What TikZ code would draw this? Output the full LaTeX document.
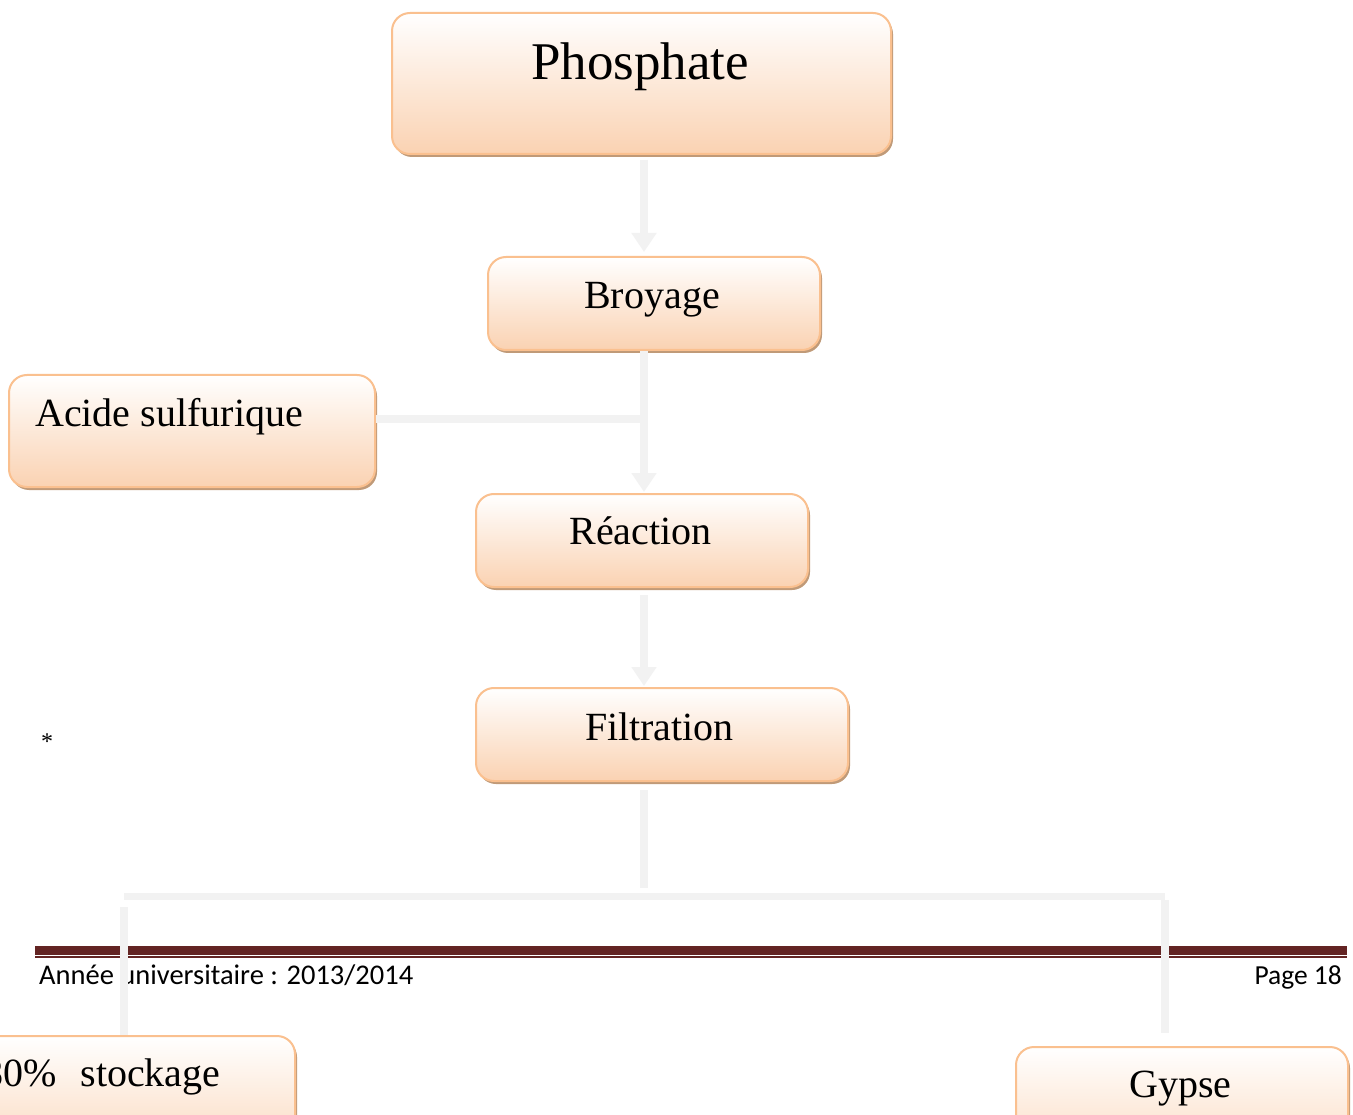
\documentclass[tikz,border=0pt]{standalone}
\usepackage{fontspec}
\setmainfont{Liberation Serif}
\newfontfamily\footfont{Carlito}
\usetikzlibrary{arrows.meta,shadows}
\definecolor{boxborder}{HTML}{FAC08F}
\definecolor{boxbottom}{HTML}{FAD2B2}
\definecolor{boxshadow}{HTML}{C09A78}
\definecolor{conn}{HTML}{F2F2F2}
\definecolor{footred}{HTML}{632423}
\tikzset{
  box/.style={draw=boxborder, line width=2pt, rounded corners=18pt,
    top color=white, bottom color=boxbottom,
    drop shadow={shadow xshift=2pt, shadow yshift=-3pt, fill=boxshadow, opacity=1},
    anchor=north west, inner sep=0pt},
  lbl/.style={anchor=base, inner sep=0pt, font=\fontsize{40}{40}\selectfont},
  foot/.style={anchor=base west, inner sep=0pt, font=\footfont\fontsize{28.5}{28.5}\selectfont},
  link/.style={draw=conn, line width=8pt},
  arr/.style={link, -{Triangle[width=24pt,length=19pt]}},
}
\begin{document}
\begin{tikzpicture}[x=1pt,y=-1pt]
\useasboundingbox[fill=white] (0,0) rectangle (1353,1115);
% footer
\coordinate (fl) at (35,950.5);
\coordinate (fr) at (1347,950.5);
\coordinate (gl) at (35,957);
\coordinate (gr) at (1347,957);
\draw[footred, line width=9pt] (fl) -- (fr);
\draw[footred, line width=1.4pt] (gl) -- (gr);
\node[foot] (year) at (39,984) {Année universitaire : 2013/2014};
\node[foot, anchor=base east, font=\footfont\fontsize{27.5}{27.5}\selectfont] (page) at (1342,984) {Page 18};
% boxes
\node[box, minimum width=499pt, minimum height=141pt] (ph) at (391,12) {};
\node[lbl, font=\fontsize{53}{53}\selectfont] (phT) at (640,80) {Phosphate};
\node[box, minimum width=332pt, minimum height=93pt] (br) at (487,256) {};
\node[lbl] (brT) at (652,309) {Broyage};
\node[box, minimum width=366pt, minimum height=112pt] (ac) at (8,374) {};
\node[lbl, anchor=base west] (acT) at (35,427) {Acide sulfurique};
\node[box, minimum width=332pt, minimum height=93pt] (re) at (475,493) {};
\node[lbl] (reT) at (640.5,544) {Réaction};
\node[box, minimum width=372pt, minimum height=93pt] (fi) at (475,687) {};
\node[lbl] (fiT) at (659.5,740) {Filtration};
\node[box, minimum width=334pt, minimum height=140pt] (st) at (-40,1035) {};
\node[lbl, anchor=base west] (stT) at (-17,1086) {80\%\hspace{24pt}stockage};
\node[box, minimum width=332pt, minimum height=140pt] (gy) at (1015,1046) {};
\node[lbl] (gyT) at (1180.5,1097) {Gypse};
\node[inner sep=0pt, font=\fontsize{24}{24}\selectfont] (star) at (47,742) {*};
% connectors
\coordinate (sp) at (644,0);
\coordinate (aj) at (648,419);
\coordinate (fj) at (644,888);
\coordinate (hl) at (124,896);
\coordinate (hr) at (1164.5,896);
\coordinate (lv) at (124,907);
\coordinate (rv) at (1164.7,900);
\draw[arr, shorten <=5pt, shorten >=4pt] (ph.south -| sp) -- (br.north -| sp);
\draw[arr, shorten >=1pt] (br.south -| sp) -- (re.north -| sp);
\draw[link] (ac.east |- aj) -- (aj);
\draw[arr, shorten <=7pt, shorten >=1pt] (re.south -| sp) -- (fi.north -| sp);
\draw[link, shorten <=8pt] (fi.south -| sp) -- (fj);
\draw[link, line width=7pt] (hl) -- (hr);
\draw[link] (lv) -- (st.north -| lv);
\draw[link, shorten >=13pt] (rv) -- (gy.north -| rv);
\end{tikzpicture}
\end{document}
